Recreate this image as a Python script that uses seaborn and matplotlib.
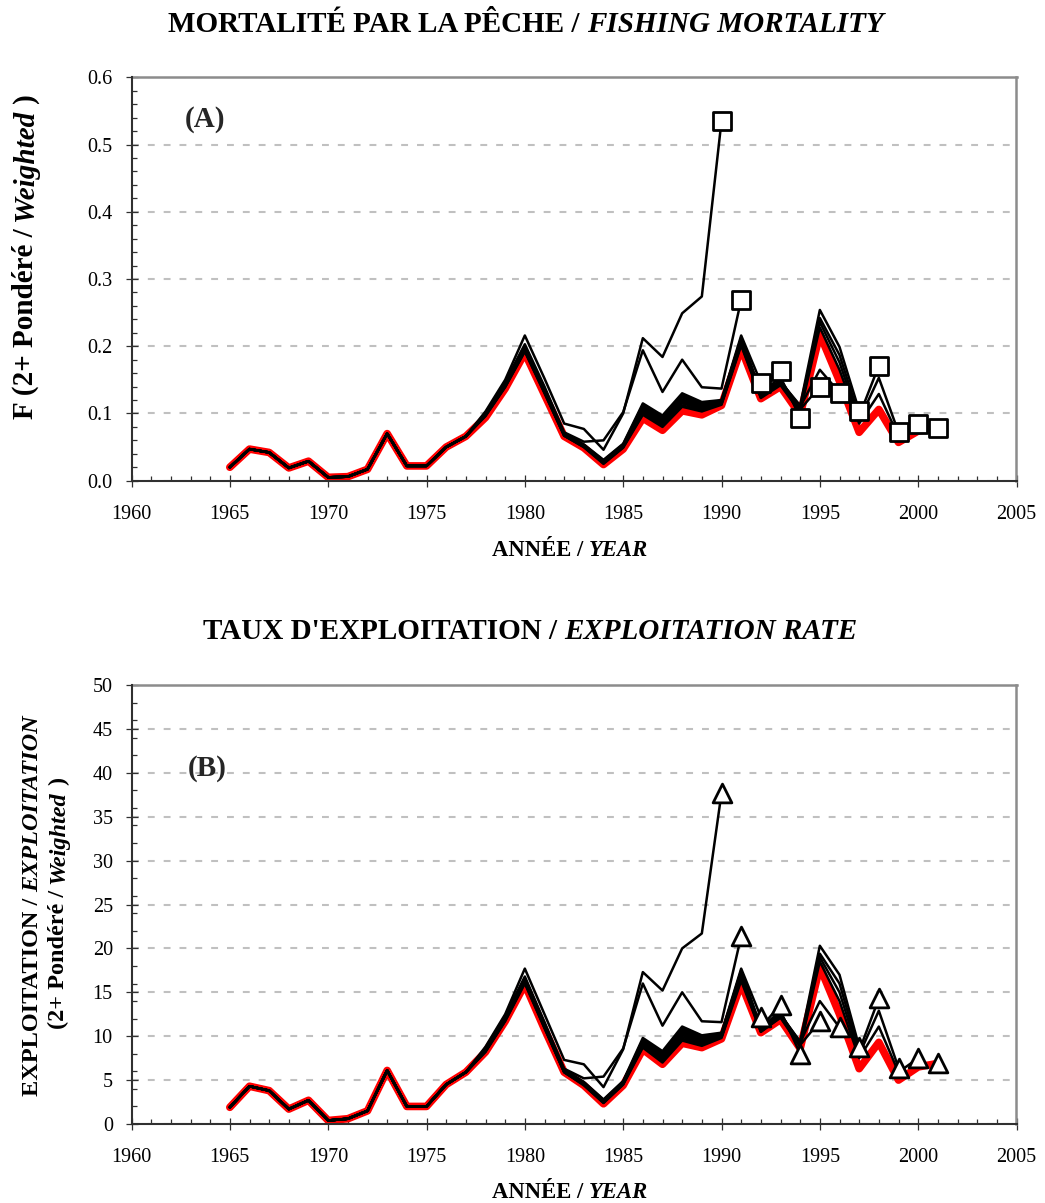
import matplotlib
matplotlib.use("Agg")
import matplotlib.pyplot as plt
from matplotlib.transforms import IdentityTransform
from matplotlib.ticker import MultipleLocator
import seaborn as sns
import pandas as pd

# ---------------- data ----------------
first_year = 1965
run_years = [1990, 1991, 1992, 1993, 1994, 1995, 1996, 1997, 1998, 1999, 2000, 2001]

# Panel A: fishing mortality, common part 1965-1977
early_f = [0.020, 0.047, 0.042, 0.019, 0.029, 0.005, 0.006, 0.017, 0.070, 0.022, 0.022, 0.050, 0.066]
# retrospective runs, values from 1978 to terminal year
f_1990 = [0.103, 0.150, 0.216, 0.152, 0.085, 0.077, 0.046, 0.100, 0.212, 0.184, 0.249, 0.274, 0.535]
f_1991 = [0.101, 0.147, 0.203, 0.140, 0.072, 0.058, 0.060, 0.102, 0.194, 0.132, 0.180, 0.139, 0.137, 0.269]
f_1992 = [0.100, 0.145, 0.200, 0.137, 0.070, 0.054, 0.031, 0.055, 0.115, 0.097, 0.130, 0.117, 0.120, 0.216, 0.146]
f_1993 = [0.100, 0.144, 0.198, 0.136, 0.069, 0.053, 0.030, 0.054, 0.112, 0.094, 0.127, 0.115, 0.119, 0.213, 0.132, 0.163]
f_1994 = [0.099, 0.143, 0.197, 0.135, 0.069, 0.053, 0.029, 0.053, 0.110, 0.092, 0.124, 0.113, 0.118, 0.211, 0.130, 0.154, 0.094]
f_1995 = [0.099, 0.142, 0.196, 0.134, 0.068, 0.052, 0.028, 0.052, 0.108, 0.090, 0.121, 0.111, 0.117, 0.209, 0.128, 0.150, 0.106, 0.140]
f_1996 = [0.098, 0.142, 0.196, 0.133, 0.068, 0.052, 0.028, 0.052, 0.106, 0.088, 0.119, 0.110, 0.116, 0.208, 0.127, 0.148, 0.110, 0.165, 0.131]
f_1997 = [0.098, 0.141, 0.195, 0.133, 0.068, 0.051, 0.027, 0.051, 0.104, 0.087, 0.117, 0.109, 0.116, 0.207, 0.126, 0.147, 0.112, 0.254, 0.199, 0.104]
f_1998 = [0.097, 0.140, 0.194, 0.132, 0.067, 0.051, 0.027, 0.050, 0.102, 0.085, 0.115, 0.107, 0.115, 0.205, 0.125, 0.145, 0.108, 0.242, 0.187, 0.096, 0.171]
f_1999 = [0.097, 0.140, 0.193, 0.131, 0.067, 0.050, 0.026, 0.050, 0.100, 0.083, 0.112, 0.105, 0.114, 0.203, 0.124, 0.144, 0.105, 0.236, 0.176, 0.090, 0.153, 0.072]
f_2000 = [0.096, 0.139, 0.192, 0.130, 0.067, 0.050, 0.025, 0.049, 0.098, 0.080, 0.110, 0.103, 0.113, 0.201, 0.123, 0.142, 0.102, 0.228, 0.165, 0.085, 0.129, 0.066, 0.084]
f_2001 = [0.094, 0.137, 0.190, 0.128, 0.066, 0.049, 0.024, 0.047, 0.093, 0.075, 0.104, 0.098, 0.112, 0.197, 0.122, 0.140, 0.098, 0.218, 0.148, 0.072, 0.106, 0.057, 0.074, 0.078]

# Panel B: exploitation rate (%), common part 1965-1977
early_e = [1.9, 4.3, 3.8, 1.7, 2.7, 0.4, 0.6, 1.5, 6.1, 2.0, 2.0, 4.5, 5.9]
e_1990 = [8.8, 12.5, 17.7, 12.5, 7.3, 6.8, 4.2, 8.5, 17.3, 15.2, 20.0, 21.7, 37.7]
e_1991 = [8.6, 12.3, 16.8, 11.6, 6.3, 5.2, 5.4, 8.6, 16.0, 11.2, 15.0, 11.7, 11.6, 21.4]
e_1992 = [8.5, 12.1, 16.6, 11.4, 6.2, 4.8, 2.8, 4.9, 9.8, 8.3, 11.1, 10.1, 10.4, 17.7, 12.2]
e_1993 = [8.5, 12.0, 16.5, 11.3, 6.1, 4.7, 2.7, 4.8, 9.6, 8.1, 10.9, 10.0, 10.3, 17.5, 11.0, 13.6]
e_1994 = [8.4, 12.0, 16.4, 11.2, 6.1, 4.7, 2.7, 4.8, 9.5, 8.0, 10.7, 9.8, 10.2, 17.3, 10.9, 12.9, 8.0]
e_1995 = [8.4, 11.9, 16.4, 11.2, 6.0, 4.6, 2.6, 4.7, 9.4, 7.8, 10.5, 9.7, 10.1, 17.2, 10.8, 12.6, 9.0, 11.7]
e_1996 = [8.4, 11.9, 16.3, 11.1, 6.0, 4.6, 2.6, 4.7, 9.3, 7.7, 10.3, 9.6, 10.1, 17.1, 10.7, 12.5, 9.3, 14.0, 11.0]
e_1997 = [8.3, 11.8, 16.3, 11.1, 6.0, 4.5, 2.5, 4.6, 9.2, 7.6, 10.1, 9.5, 10.0, 17.0, 10.7, 12.4, 9.4, 20.3, 17.0, 8.8]
e_1998 = [8.3, 11.8, 16.2, 11.0, 5.9, 4.5, 2.5, 4.6, 9.0, 7.4, 9.9, 9.3, 9.9, 16.8, 10.6, 12.3, 9.1, 19.4, 16.0, 8.3, 14.3]
e_1999 = [8.3, 11.8, 16.1, 11.0, 5.9, 4.5, 2.4, 4.5, 8.9, 7.2, 9.7, 9.1, 9.9, 16.6, 10.5, 12.2, 8.9, 19.0, 15.0, 7.9, 12.9, 6.4]
e_2000 = [8.2, 11.7, 16.0, 10.9, 5.9, 4.4, 2.4, 4.5, 8.7, 7.0, 9.5, 8.9, 9.8, 16.3, 10.5, 12.1, 8.8, 18.5, 14.0, 7.5, 11.1, 5.9, 7.5]
e_2001 = [8.2, 11.7, 15.9, 10.8, 5.9, 4.4, 2.3, 4.4, 8.5, 6.8, 9.2, 8.7, 9.7, 16.0, 10.4, 11.9, 8.6, 17.9, 12.5, 6.3, 9.3, 5.0, 6.5, 6.9]

f_tails = [f_1990, f_1991, f_1992, f_1993, f_1994, f_1995, f_1996, f_1997, f_1998, f_1999, f_2000, f_2001]
e_tails = [e_1990, e_1991, e_1992, e_1993, e_1994, e_1995, e_1996, e_1997, e_1998, e_1999, e_2000, e_2001]

x_ticks = [1960, 1965, 1970, 1975, 1980, 1985, 1990, 1995, 2000, 2005]


def long_frame(early, tails):
    rows = []
    for run, tail in zip(run_years, tails):
        vals = list(early) + list(tail)
        for i, v in enumerate(vals):
            rows.append({"Year": first_year + i, "Value": v, "Run": run})
    return pd.DataFrame(rows)


df_f = long_frame(early_f, f_tails)
df_e = long_frame(early_e, e_tails)

# ---------------- style ----------------
sns.set_theme(style="white")
FONT = "Liberation Serif"
plt.rcParams["font.family"] = [FONT, "DejaVu Serif"]

W, H = 1045, 1203
fig = plt.figure(figsize=(W / 100, H / 100), dpi=100)
fig.patch.set_facecolor("white")

axA = fig.add_axes([131.5 / W, 1 - 480.7 / H, 885 / W, (480.7 - 77.3) / H])
axB = fig.add_axes([131.5 / W, 1 - 1124 / H, 885 / W, (1124 - 685) / H])


def draw_panel(ax, df, marker, ylim, ymajor, yminor, yfmt):
    last = df["Run"].max()
    red = df[df["Run"] == last]
    blk = df[df["Run"] != last]
    sns.lineplot(data=red, x="Year", y="Value", color="red", linewidth=5.5,
                 ax=ax, zorder=2, solid_joinstyle="round", solid_capstyle="round",
                 legend=False)
    sns.lineplot(data=blk, x="Year", y="Value", hue="Run",
                 palette={r: "black" for r in run_years}, linewidth=1.8,
                 ax=ax, zorder=3, solid_joinstyle="round", legend=False,
                 estimator=None)
    ends = df.loc[df["Year"] == df["Run"]]
    sns.scatterplot(data=ends, x="Year", y="Value", marker=marker, s=13.5 ** 2,
                    color="white", edgecolor="black", linewidth=2.0, ax=ax,
                    zorder=5, legend=False)
    ax.set_xlim(1960, 2005)
    ax.set_ylim(*ylim)
    ax.set_xticks(x_ticks)
    ax.xaxis.set_minor_locator(MultipleLocator(1))
    ax.yaxis.set_major_locator(MultipleLocator(ymajor))
    ax.yaxis.set_minor_locator(MultipleLocator(yminor))
    ax.yaxis.set_major_formatter(yfmt)
    ax.set_xlabel("")
    ax.set_ylabel("")
    ax.set_axisbelow(True)
    ax.yaxis.grid(True, which="major", color="#c0c0c0", linewidth=1.5,
                  linestyle=(0, (3.3, 4.3)))
    ax.xaxis.grid(False)
    for side in ("left", "bottom"):
        ax.spines[side].set_color("#303030")
        ax.spines[side].set_linewidth(1.5)
        ax.spines[side].set_zorder(6)
    for side in ("top", "right"):
        ax.spines[side].set_color("#8c8c8c")
        ax.spines[side].set_linewidth(1.8)
    ax.tick_params(which="major", direction="inout", length=8, width=0.9,
                   color="#303030", labelsize=14.5, labelcolor="black")
    ax.tick_params(which="minor", direction="in", length=3.5, width=0.9,
                   color="#303030")
    ax.tick_params(axis="x", which="major", pad=13.3, bottom=True, top=False)
    ax.tick_params(axis="y", which="major", pad=9.5, left=True, right=False)
    ax.tick_params(axis="x", which="minor", bottom=True, top=False)
    ax.tick_params(axis="y", which="minor", left=True, right=False)
    ax.set_facecolor("white")


draw_panel(axA, df_f, "s", (0, 0.6), 0.1, 0.02, "{x:.1f}")
draw_panel(axB, df_e, "^", (0, 50), 5, 2, "{x:.0f}")

# ---------------- mixed-style texts ----------------
fig.canvas.draw()
renderer = fig.canvas.get_renderer()


def text_width(s, italic, size):
    t = fig.text(0, 0, s, fontsize=size, fontweight="bold",
                 fontstyle="italic" if italic else "normal", family=FONT)
    w = t.get_window_extent(renderer).width
    t.remove()
    return w


def mixed(pieces, x_img, y_img, size, vertical=False):
    sp = text_width("x x", False, size) - text_width("xx", False, size)
    ws = [text_width(s, it, size) for s, it in pieces]
    total = sum(ws) + sp * (len(pieces) - 1)
    pos = -total / 2
    for (s, it), w in zip(pieces, ws):
        kw = dict(fontsize=size, fontweight="bold",
                  fontstyle="italic" if it else "normal", family=FONT,
                  transform=IdentityTransform(), ha="left", va="baseline",
                  color="black")
        if vertical:
            fig.text(x_img, (H - y_img) + pos, s, rotation=90,
                     rotation_mode="anchor", **kw)
        else:
            fig.text(x_img + pos, H - y_img, s, **kw)
        pos += w + sp


mixed([("MORTALITÉ PAR LA PÊCHE /", False), ("FISHING MORTALITY", True)], 526, 32, 21)
mixed([("TAUX D'EXPLOITATION /", False), ("EXPLOITATION RATE", True)], 530, 639, 21)
mixed([("ANNÉE /", False), ("YEAR", True)], 570, 556, 16.3)
mixed([("ANNÉE /", False), ("YEAR", True)], 570, 1198, 16.3)
mixed([("F (2+ Pondéré /", False), ("Weighted", True), (")", False)], 33, 256, 21, vertical=True)
mixed([("EXPLOITATION /", False), ("EXPLOITATION", True)], 38, 906, 17.5, vertical=True)
mixed([("(2+ Pondéré /", False), ("Weighted", True), (")", False)], 64, 903, 17.5, vertical=True)

fig.text(185, H - 127, "(A)", fontsize=21, fontweight="bold", family=FONT,
         transform=IdentityTransform(), ha="left", va="baseline")
fig.text(188, H - 776, "(B)", fontsize=21, fontweight="bold", family=FONT,
         transform=IdentityTransform(), ha="left", va="baseline")

fig.savefig("out.png", dpi=100, facecolor="white")
